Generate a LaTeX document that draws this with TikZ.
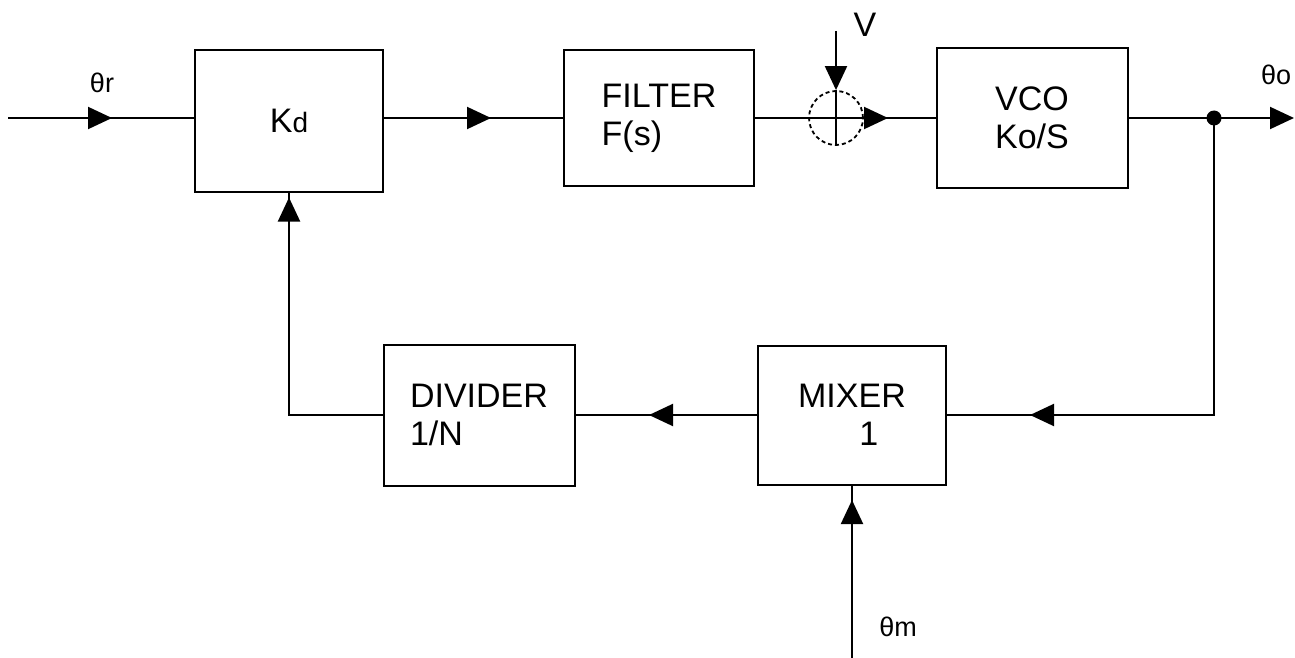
\documentclass[tikz,border=0pt]{standalone}
\usepackage{fontspec}
\setmainfont{Liberation Sans}
\usetikzlibrary{arrows.meta,decorations.markings}
\tikzset{
  bigtri/.tip={Triangle[length=24pt,width=22pt]},
  blk/.style={draw, line width=2pt, rectangle, inner sep=0pt,
    font=\fontsize{34}{38}\selectfont, align=left},
  wire/.style={line width=2pt},
  midarr/.style={postaction={decorate}, decoration={markings,
    mark=at position #1 with {\arrow{bigtri}}}},
  sumc/.style={draw, circle, line width=1.8pt, dash pattern=on 4pt off 3pt,
    minimum size=54pt, inner sep=0pt},
  lbl/.style={font=\fontsize{27}{30}\selectfont, inner sep=0pt},
}
\begin{document}
\begin{tikzpicture}[x=1pt,y=-1pt]
\useasboundingbox (0,0) rectangle (1295,658);
% blocks
\node[blk, minimum width=188pt, minimum height=142pt] (kd) at (289,121) {K{\fontsize{28}{30}\selectfont d}};
\node[blk, minimum width=190pt, minimum height=135pt] (filter) at (659,118) {FILTER\\F(s)};
\node[blk, minimum width=191pt, minimum height=139pt] (vco) at (1032,118) {VCO\\Ko/S};
\node[blk, minimum width=188pt, minimum height=139pt] (mixer) at (852,415) {MIXER\\\hspace*{1.8em}1};
\node[blk, minimum width=191pt, minimum height=141pt] (divider) at (479,415) {DIVIDER\\1/N};
\node[sumc] (sum) at (836,118) {};
% coordinates
\coordinate (in) at (8,118);
\coordinate (vtop) at (836,31);
\coordinate (j) at (1214,118);
\coordinate (out) at (1294,118);
\coordinate (mIn) at (852,658);
% connectors
\draw[wire, midarr=104pt] (in) -- (kd.west |- in);
\draw[wire, midarr=107pt] (kd.east |- in) -- (filter.west);
\draw[wire, midarr=133pt] (filter.east) -- (vco.west);
\draw[wire, -{bigtri}] (vtop) -- (sum.north);
\draw[wire] (sum.north) -- (sum.south);
\draw[wire] (vco.east) -- (j);
\draw[wire, -{bigtri}] (j) -- (out);
\fill (j) circle (7.5);
\draw[wire, midarr=481pt] (j) |- (mixer.east);
\draw[wire, midarr=108pt] (mixer.west) -- (divider.east);
\draw[wire, midarr=158pt] (mIn) -- (mixer.south);
\draw[wire, midarr=311pt] (divider.west) -| (kd.south);
% labels
\node[lbl] (lr) at (102,83) {θr};
\node[lbl] (lo) at (1276,75) {θo};
\node[lbl] (lm) at (898,627) {θm};
\node[font=\fontsize{34}{38}\selectfont, inner sep=0pt] (lv) at (865,25) {V};
\end{tikzpicture}
\end{document}
